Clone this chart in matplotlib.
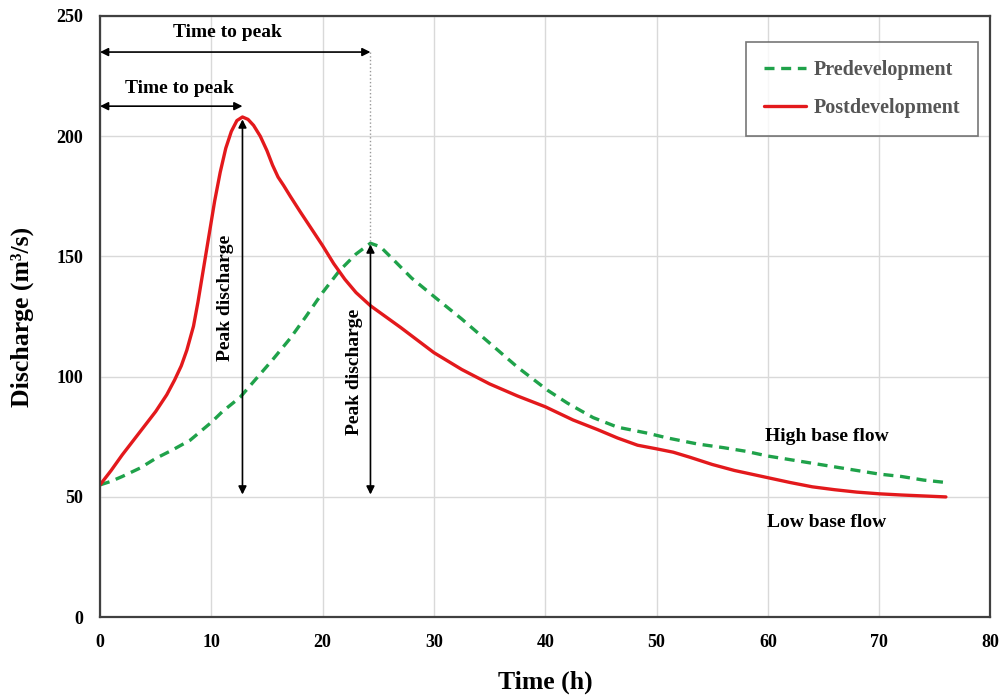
import numpy as np
import matplotlib.pyplot as plt

# hydrograph values
t_post = [0, 1, 2, 3, 4, 5, 6, 6.7, 7.3, 7.8, 8.4, 8.8, 9.3, 9.8, 10.3, 10.8, 11.3, 11.8, 12.3,
          12.8, 13.3, 13.8, 14.4, 15, 15.5, 16, 16.5, 17.1, 18, 19, 20, 21, 22, 23, 24.3, 25.2,
          27, 30, 32.5, 35, 37.5, 40, 42.5, 44.7, 46.5, 48.3, 50, 51.5, 53, 55, 57, 60, 62,
          64, 66, 68, 70, 72, 74, 76]
q_post = [55, 61, 67.5, 73.5, 79.5, 85.5, 92.5, 98.6, 104.5, 111, 121, 131, 145, 159, 173, 185, 195, 202, 206.5,
          208, 207, 204.5, 200, 194, 188, 183, 179.5, 175, 168.5, 161.5, 154.5, 147, 140.5, 135, 129.5, 126.5,
          120.5, 110, 103, 97, 92, 87.5, 82, 78, 74.5, 71.5, 70, 68.6, 66.5, 63.5, 61, 58, 56,
          54.2, 53, 52, 51.3, 50.8, 50.4, 50]

t_pre = [0, 1, 2, 3.6, 5, 6.5, 8.1, 10, 11, 12.6, 14, 15.5, 17.1, 18.5, 20, 21.5, 23, 24.3, 25.2,
         26.5, 28, 30.1, 32.5, 35, 37.5, 40.2, 42, 44.3, 46.5, 49.2, 51, 53.7, 56, 58, 60, 62,
         64, 66, 68, 70, 72, 74, 76]
q_pre = [55, 56.5, 58.5, 62, 66, 69.5, 73.6, 81, 85.5, 91.5, 99, 107, 116, 125, 135, 144, 151, 155.5, 154,
         148, 141, 133, 124, 114, 104, 94.4, 89, 83, 79, 76.5, 74.5, 72, 70.5, 69, 67, 65.5,
         64, 62.5, 61, 59.5, 58.5, 57, 56]

tp_post, qp_post = 12.8, 207
tp_pre, qp_pre = 24.3, 155
base_q = 51

plt.rcParams['font.family'] = ['Liberation Serif', 'DejaVu Serif']
plt.rcParams['font.weight'] = 'bold'

fig = plt.figure(figsize=(10.05, 6.95), dpi=100)
ax = fig.add_axes([0.0995, 0.112, 0.886, 0.865])

ax.plot(t_pre, q_pre, color='#1fa24a', lw=2.4, ls=(0, (3, 2)), label='Predevelopment')
ax.plot(t_post, q_post, color='#e3191c', lw=2.4, solid_joinstyle='round', solid_capstyle='round',
        label='Postdevelopment')

ax.set_xlim(0, 80)
ax.set_ylim(0, 250)
ax.set_xticks(np.arange(0, 81, 10))
ax.set_yticks(np.arange(0, 251, 50))
ax.grid(True, color='#d9d9d9', lw=1)
ax.set_axisbelow(True)
ax.tick_params(length=0, labelsize=13)
ax.tick_params(axis='x', pad=12)
ax.tick_params(axis='y', pad=12)
for lab in ax.get_xticklabels() + ax.get_yticklabels():
    lab.set_fontweight('bold')
for s in ax.spines.values():
    s.set_color('#404040')
    s.set_linewidth(1.6)

ax.set_xlabel('Time (h)', fontsize=18.5, fontweight='bold', labelpad=14)
ax.set_ylabel('Discharge (m³/s)', fontsize=18.5, fontweight='bold', labelpad=16)

arrow = dict(arrowstyle='<|-|>', color='black', lw=1.2, mutation_scale=12, shrinkA=0, shrinkB=0)
# time to peak
ax.annotate('', xy=(0, 235), xytext=(tp_pre, 235), arrowprops=arrow)
ax.text(11.46, 243, 'Time to peak', ha='center', va='center', fontsize=14, fontweight='bold')
ax.annotate('', xy=(0, 212.5), xytext=(tp_post, 212.5), arrowprops=arrow)
ax.text(7.1, 220, 'Time to peak', ha='center', va='center', fontsize=14, fontweight='bold')
ax.plot([tp_pre, tp_pre], [235, qp_pre], color='#999999', lw=1, ls=':')

# peak discharge
ax.annotate('', xy=(tp_post, qp_post), xytext=(tp_post, base_q), arrowprops=arrow)
ax.text(11.3, 132.7, 'Peak discharge', rotation=90, ha='center', va='center', fontsize=14, fontweight='bold')
ax.annotate('', xy=(tp_pre, qp_pre), xytext=(tp_pre, base_q), arrowprops=arrow)
ax.text(22.9, 102, 'Peak discharge', rotation=90, ha='center', va='center', fontsize=14, fontweight='bold')

ax.text(65.3, 75, 'High base flow', ha='center', va='center', fontsize=14, fontweight='bold')
ax.text(65.3, 39.5, 'Low base flow', ha='center', va='center', fontsize=14, fontweight='bold')

leg = ax.legend(loc='upper right', bbox_to_anchor=(0.986, 0.957), fontsize=14.5, frameon=True,
                fancybox=False, edgecolor='#555555', handlelength=2.1, handletextpad=0.35,
                borderpad=0.9, labelspacing=0.9, borderaxespad=0)
leg.get_frame().set_linewidth(1.2)
for txt in leg.get_texts():
    txt.set_color('#555555')
    txt.set_fontweight('bold')

plt.savefig('out.png', dpi=100)
